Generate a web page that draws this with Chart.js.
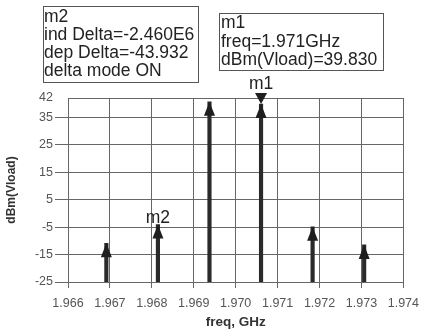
<!DOCTYPE html>
<html>
<head>
<meta charset="utf-8">
<script src="https://cdn.jsdelivr.net/npm/chart.js@4/dist/chart.umd.min.js"></script>
<style>
  html, body { margin: 0; padding: 0; background: #fff; }
  #wrap { width: 427px; height: 334px; }
</style>
</head>
<body>
<div id="wrap"><canvas id="specChart" width="427" height="334"></canvas></div>
<script>
// spectrum lines (GHz) and their levels in dBm
const freqs = [1.966915, 1.968145, 1.969375, 1.970605, 1.971835, 1.973065];
const levels = [-10.9, -4.1, 40.6, 39.83, -4.9, -11.5];
const floorLevel = -25;
const xTicks = [1.966, 1.967, 1.968, 1.969, 1.970, 1.971, 1.972, 1.973, 1.974];
const yTicks = [-25, -15, -5, 5, 15, 25, 35, 42];
const m1Index = 3;
const m2Index = 1;
const m1Lines = ['m1', 'freq=1.971GHz', 'dBm(Vload)=39.830'];
const m2Lines = ['m2', 'ind Delta=-2.460E6', 'dep Delta=-43.932', 'delta mode ON'];

const tickFont = { family: "'Liberation Sans Narrow', 'Liberation Sans', Arial, sans-serif", size: 12.5 };
const boxFont = "17.5px 'Liberation Sans', Arial, sans-serif";
const ink = '#1e1e1e';

// arrow heads, markers and the marker readout boxes
const markerPlugin = {
  id: 'markers',
  afterDatasetsDraw(chart) {
    const ctx = chart.ctx;
    const ys = chart.scales.y;
    const bars = chart.getDatasetMeta(0).data;
    const tip = i => ({ x: bars[i].x, y: ys.getPixelForValue(levels[i]) });
    ctx.save();
    ctx.fillStyle = ink;
    bars.forEach((el, i) => {
      const p = tip(i);
      ctx.beginPath();
      ctx.moveTo(p.x, p.y);
      ctx.lineTo(p.x - 5.5, p.y + 14);
      ctx.lineTo(p.x + 5.5, p.y + 14);
      ctx.closePath();
      ctx.fill();
    });

    // m1: inverted triangle sitting on the peak
    const p1 = tip(m1Index);
    ctx.beginPath();
    ctx.moveTo(p1.x, p1.y);
    ctx.lineTo(p1.x - 6, p1.y - 11);
    ctx.lineTo(p1.x + 6, p1.y - 11);
    ctx.closePath();
    ctx.fill();

    ctx.font = boxFont;
    ctx.fillStyle = '#222';
    ctx.textAlign = 'center';
    ctx.textBaseline = 'alphabetic';
    ctx.fillText('m1', p1.x, p1.y - 15);
    const p2 = tip(m2Index);
    ctx.fillText('m2', p2.x, p2.y - 2);

    // readout boxes
    ctx.textAlign = 'left';
    ctx.strokeStyle = '#555';
    ctx.lineWidth = 1;
    ctx.strokeRect(43.5, 6.5, 155, 76);
    m2Lines.forEach((t, i) => ctx.fillText(t, 44, 22 + i * 18));
    ctx.strokeRect(219.5, 13.5, 164, 57);
    m1Lines.forEach((t, i) => ctx.fillText(t, 221, 28 + i * 18.5));
    ctx.restore();
  }
};

new Chart(document.getElementById('specChart'), {
  type: 'bar',
  data: {
    datasets: [{
      data: freqs.map((f, i) => ({ x: f, y: [floorLevel, levels[i]] })),
      backgroundColor: '#2a2a2a',
      borderWidth: 0,
      barThickness: 3.5
    }]
  },
  options: {
    responsive: false,
    animation: false,
    layout: { padding: { top: 98, right: 15, left: 0, bottom: 0 } },
    plugins: { legend: { display: false }, tooltip: { enabled: false } },
    scales: {
      x: {
        type: 'linear',
        offset: false,
        min: 1.966,
        max: 1.974,
        afterBuildTicks: s => { s.ticks = xTicks.map(v => ({ value: v })); },
        afterFit: s => { s.height = 52; },
        ticks: {
          autoSkip: false,
          maxRotation: 0,
          padding: 8,
          color: '#555',
          font: tickFont,
          callback: v => v.toFixed(3)
        },
        grid: { color: '#666', tickLength: 6, offset: false },
        border: { color: '#666' },
        title: {
          display: true,
          text: 'freq, GHz',
          color: '#333',
          font: { family: "'Liberation Sans', Arial, sans-serif", size: 13.5, weight: 'bold' },
          padding: { top: 0, bottom: 4 }
        }
      },
      y: {
        min: floorLevel,
        max: 42,
        afterBuildTicks: s => { s.ticks = yTicks.map(v => ({ value: v })); },
        afterFit: s => { s.width = 68; },
        ticks: { padding: 2, color: '#555', font: tickFont },
        grid: {
          color: '#666',
          tickLength: 13,
          tickColor: c => (c.tick && c.tick.value === 42 ? 'rgba(0,0,0,0)' : '#666')
        },
        border: { color: '#666' },
        title: {
          display: true,
          text: 'dBm(Vload)',
          color: '#333',
          font: { family: "'Liberation Sans', Arial, sans-serif", size: 12, weight: 'bold' },
          padding: { top: 4, bottom: 0 }
        }
      }
    }
  },
  plugins: [markerPlugin]
});
</script>
</body>
</html>
